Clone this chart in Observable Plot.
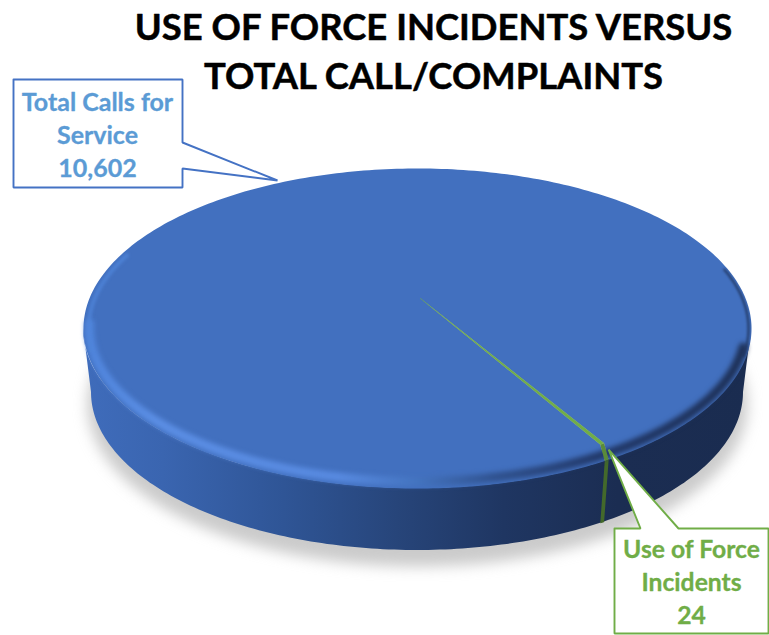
<!DOCTYPE html>
<html>
<head>
<meta charset="utf-8">
<style>
html,body{margin:0;padding:0;background:#fff;overflow:hidden}
svg{display:block}
</style>
<script src="https://cdn.jsdelivr.net/npm/d3@7"></script>
<script src="https://cdn.jsdelivr.net/npm/@observablehq/plot@0.6"></script>
</head>
<body>
<div id="chart"></div>
<script>
// ---- data ----
const categories = ["Total Calls for\nService", "Use of Force\nIncidents"];
const values = [10602, 24];
const chartTitle = "USE OF FORCE INCIDENTS VERSUS\nTOTAL CALL/COMPLAINTS";

// ---- layout of the tilted disc ----
const W = 769, H = 635;
const top_ = {cx: 417, cy: 328, rx: 334, ry: 160};
const bot_ = {cx: 417, cy: 392, rx: 326, ry: 158};
const inset = (e, dx, dy) => ({...e, rx: e.rx - dx, ry: e.ry - dy});
const bevel_ = inset(top_, 8, 20);
const apex = {x: 420, y: 298};
const firstSliceDeg = 145.9;
const rad = d => d * Math.PI / 180;
const onEllipse = (e, a) => ({x: e.cx + e.rx * Math.sin(a), y: e.cy - e.ry * Math.cos(a)});
const sweep = (a0, a1, n) => d3.range(n + 1).map(i => a0 + (a1 - a0) * i / n);

// slices come from the values
const arcs = d3.pie().sort(null).startAngle(rad(firstSliceDeg)).endAngle(rad(firstSliceDeg + 360))(values);
const arcAngles = arc => sweep(arc.startAngle, arc.endAngle, Math.max(4, Math.ceil((arc.endAngle - arc.startAngle) * 60)));
const sliceTop = (arc, e) => [apex, ...arcAngles(arc).map(a => onEllipse(e, a)), apex];
const bigSliceTop = arc => [
  apex,
  onEllipse(bevel_, arc.startAngle),
  ...arcAngles(arc).map(a => onEllipse(top_, a)),
  onEllipse(bevel_, arc.endAngle),
  apex
];
const band = (arc, e1, e2) => {
  const as = arcAngles(arc);
  return [...as.map(a => onEllipse(e1, a)), ...as.slice().reverse().map(a => onEllipse(e2, a)), onEllipse(e1, arc.startAngle)];
};
const wall = sweep(rad(90), rad(270), 180).map(a => {
  const p = onEllipse(top_, a), q = onEllipse(bot_, a);
  return {x1: p.x, y1: p.y, x2: q.x, y2: q.y};
});
const lowerRim = sweep(rad(97), rad(272), 180).map(a => onEllipse(inset(top_, 6, 7), a));
const leftEdge = sweep(rad(262), rad(298), 40).map(a => onEllipse(inset(top_, 5, 4), a));
const rightEdge = sweep(rad(68), rad(100), 40).map(a => onEllipse(inset(top_, 3, 3), a));
const shadow = sweep(0, rad(360), 180).map(a => onEllipse({cx: bot_.cx, cy: bot_.cy + 12, rx: bot_.rx + 4, ry: bot_.ry + 4}, a));

// callouts
const tipBig = {x: 277, y: 180};
const tipSmall = onEllipse(top_, arcs[1].startAngle);
tipSmall.y -= 10;
const calloutBig = [{x:13,y:79},{x:182,y:79},{x:182,y:142},tipBig,{x:182,y:168},{x:182,y:187},{x:13,y:187},{x:13,y:79}];
const calloutSmall = [{x:614,y:528},{x:640,y:528},tipSmall,{x:678,y:528},{x:768,y:528},{x:768,y:633},{x:614,y:633},{x:614,y:528}];

// gradients
const defs = () => {
  const d = d3.create("svg:defs");
  const grad = (id, stops) => {
    const g = d.append("linearGradient").attr("id", id);
    stops.forEach(([o, c, op]) => g.append("stop").attr("offset", o).attr("stop-color", c).attr("stop-opacity", op ?? 1));
  };
  grad("wallGrad", [[0,"#3f6cbb"],[0.12,"#3a65b0"],[0.3,"#2f5596"],[0.47,"#27457a"],[0.63,"#1f3662"],[0.8,"#1b2d52"],[1,"#1a2c50"]]);
  grad("rimGrad", [[0,"#5085dc"],[0.1,"#5b8ee4"],[0.38,"#588ae0"],[0.5,"#4474c0"],[0.62,"#30528f"],[0.78,"#22396a"],[1,"#1e3158"]]);
  return d.node();
};

const poly = (pts, opts) => Plot.line(pts, {x: "x", y: "y", curve: "linear", ...opts});
const textStyle = {fontFamily: "Lato", fontWeight: 700, textAnchor: "middle", text: d => d};

const plot = Plot.plot({
  width: W, height: H,
  margin: 0,
  x: {domain: [0, W], range: [0, W], axis: null},
  y: {domain: [0, H], range: [0, H], axis: null},
  style: {background: "#fff"},
  marks: [
    defs,
    poly(shadow, {fill: "#a9a9a9", stroke: "none", fillOpacity: 0.6, imageFilter: "blur(7px)"}),
    Plot.area(wall, {x1: "x1", y1: "y1", x2: "x2", y2: "y2", fill: "url(#wallGrad)", curve: "linear"}),
    poly(band(arcs[1], top_, bot_), {fill: "#43692b", stroke: "none"}),
    poly(bigSliceTop(arcs[0]), {fill: "#4270bf", stroke: "none"}),
    poly(lowerRim, {stroke: "url(#rimGrad)", strokeWidth: 9, fill: "none", imageFilter: "blur(2.5px)"}),
    poly(leftEdge, {stroke: "#4f84da", strokeOpacity: 0.8, strokeWidth: 4, fill: "none", imageFilter: "blur(1.5px)"}),
    poly(rightEdge, {stroke: "#1e3158", strokeOpacity: 0.75, strokeWidth: 2.5, fill: "none", imageFilter: "blur(1.2px)"}),
    poly(band(arcs[1], bevel_, top_), {fill: "#5a8b3a", stroke: "none"}),
    poly(sliceTop(arcs[1], bevel_), {fill: "#70ad47", stroke: "#70ad47", strokeWidth: 0.5, strokeOpacity: 0.7}),
    poly(calloutBig, {fill: "#fff", stroke: "#4472c4", strokeWidth: 1.9, strokeLinejoin: "miter"}),
    poly(calloutSmall, {fill: "#fff", stroke: "#70ad47", strokeWidth: 1.9, strokeLinejoin: "miter"}),
    Plot.text([`${categories[0]}\n${d3.format(",")(values[0])}`], {
      ...textStyle, x: () => 97, y: () => 133, fontSize: 25, lineHeight: 1.32, fill: "#5b9bd5",
      stroke: "#5b9bd5", strokeWidth: 0.3}),
    Plot.text([`${categories[1]}\n${d3.format(",")(values[1])}`], {
      ...textStyle, x: () => 691, y: () => 580, fontSize: 24.7, lineHeight: 1.32, fill: "#70ad47",
      stroke: "#70ad47", strokeWidth: 0.3}),
    Plot.text([chartTitle], {
      ...textStyle, x: () => 433, y: () => 48, fontSize: 36.4, lineHeight: 1.35, fill: "#000",
      stroke: "#000", strokeWidth: 0.5})
  ]
});
document.getElementById("chart").append(plot);
</script>
</body>
</html>
